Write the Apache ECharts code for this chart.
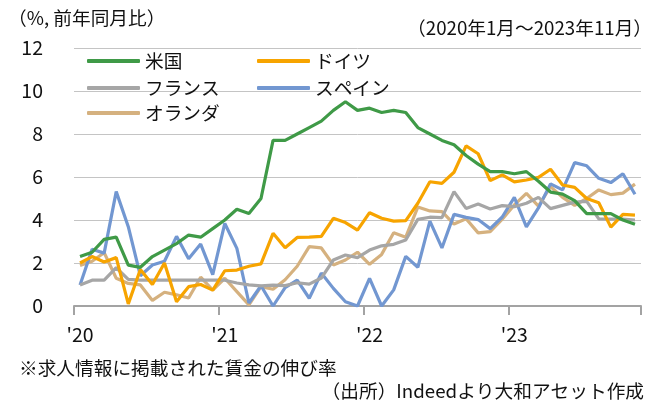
<!DOCTYPE html>
<html>
<head>
<meta charset="utf-8">
<script src="https://cdn.jsdelivr.net/npm/echarts@6/dist/echarts.min.js"></script>
<style>
html,body{margin:0;padding:0;background:#fff;}
#c{width:658px;height:405px;}
</style>
</head>
<body>
<div id="c"></div>
<script>
const yearLabels = ["'20", "'21", "'22", "'23"];
const startYear = 2020;
const monthCount = 47;
const yTicks = [0, 2, 4, 6, 8, 10, 12];

const seriesNames = ['米国', 'ドイツ', 'フランス', 'スペイン', 'オランダ'];
const us = [2.3, 2.5, 3.1, 3.2, 1.9, 1.8, 2.3, 2.6, 2.9, 3.3, 3.2, 3.6, 4.0, 4.5, 4.3, 5.0, 7.7, 7.7, 8.0, 8.3, 8.6, 9.1, 9.5, 9.1, 9.2, 9.0, 9.1, 9.0, 8.3, 8.0, 7.7, 7.5, 7.0, 6.6, 6.25, 6.25, 6.15, 6.25, 5.8, 5.3, 5.2, 4.9, 4.3, 4.3, 4.3, 4.0, 3.8];
const germany = [2.0, 2.3, 2.05, 2.25, 0.1, 1.7, 1.0, 2.0, 0.2, 0.9, 1.0, 0.74, 1.64, 1.67, 1.85, 1.96, 3.38, 2.71, 3.19, 3.2, 3.24, 4.08, 3.88, 3.53, 4.34, 4.08, 3.95, 3.97, 4.78, 5.78, 5.7, 6.22, 7.45, 7.08, 5.83, 6.1, 5.77, 5.86, 5.98, 6.36, 5.63, 5.52, 5.0, 4.8, 3.67, 4.26, 4.23];
const france = [0.98, 1.2, 1.2, 1.78, 1.24, 1.2, 1.2, 1.2, 1.2, 1.2, 1.2, 1.2, 1.2, 1.07, 0.98, 0.94, 0.97, 0.95, 1.08, 1.02, 1.3, 2.14, 2.37, 2.25, 2.6, 2.8, 2.87, 3.07, 4.03, 4.13, 4.11, 5.32, 4.54, 4.74, 4.51, 4.67, 4.62, 4.78, 5.05, 4.53, 4.68, 4.83, 4.87, 4.05, 4.04, 4.04, 4.0];
const spain = [0.98, 2.64, 2.46, 5.32, 3.69, 1.41, 1.91, 2.08, 3.24, 2.2, 2.88, 1.46, 3.84, 2.68, 0.14, 0.94, 0.0, 0.86, 1.2, 0.36, 1.53, 0.82, 0.2, 0.0, 1.29, 0.0, 0.75, 2.31, 1.8, 3.95, 2.7, 4.26, 4.12, 4.02, 3.6, 4.14, 5.05, 3.68, 4.56, 5.68, 5.4, 6.67, 6.52, 5.94, 5.74, 6.15, 5.2];
const netherlands = [1.88, 2.08, 2.48, 1.29, 1.05, 0.98, 0.26, 0.64, 0.52, 0.37, 1.34, 0.74, 1.29, 0.67, 0.05, 0.9, 0.78, 1.22, 1.85, 2.76, 2.7, 1.91, 2.14, 2.5, 1.94, 2.4, 3.41, 3.2, 4.6, 4.42, 4.39, 3.81, 4.06, 3.4, 3.46, 4.04, 4.7, 5.24, 4.65, 5.55, 5.05, 4.68, 5.0, 5.4, 5.18, 5.25, 5.67];

const seriesData = [us, germany, france, spain, netherlands];
const colors = ['#3f9a47', '#f7a400', '#a6a6a6', '#7297d1', '#d5b17f'];

const categories = [];
for (let i = 0; i < monthCount; i++) {
  const y = startYear + Math.floor(i / 12);
  const m = (i % 12) + 1;
  categories.push(y + '-' + (m < 10 ? '0' + m : m));
}

const FONT = '"Noto Sans CJK JP", "Noto Sans", sans-serif';
const FS = 18.7;
const AFS = 19.5;

const legendPos = [
  {left: 87, top: 51},
  {left: 257, top: 51},
  {left: 87, top: 78},
  {left: 257, top: 78},
  {left: 87, top: 103}
];

const chart = echarts.init(document.getElementById('c'), null, {renderer: 'canvas'});
chart.setOption({
  animation: false,
  backgroundColor: '#fff',
  color: colors,
  grid: {left: 74, right: 17, top: 48, bottom: 99, containLabel: false},
  legend: seriesNames.map((n, i) => ({
    data: [n],
    left: legendPos[i].left,
    top: legendPos[i].top,
    padding: 0,
    itemWidth: 53,
    itemHeight: 4,
    icon: 'roundRect',
    textStyle: {fontFamily: FONT, fontSize: FS, color: '#111', lineHeight: 20}
  })),
  xAxis: {
    type: 'category',
    data: categories,
    boundaryGap: true,
    axisLine: {show: true, lineStyle: {color: '#a3a3a3', width: 2}},
    axisTick: {
      show: true,
      length: 9,
      lineStyle: {color: '#a3a3a3', width: 2},
      interval: (idx) => idx % 12 === 0
    },
    axisLabel: {
      interval: (idx) => idx % 12 === 0,
      formatter: (v, idx) => yearLabels[Math.floor(idx / 12)],
      fontFamily: FONT,
      fontSize: AFS,
      color: '#111',
      margin: 19
    },
    splitLine: {show: false}
  },
  yAxis: {
    type: 'value',
    min: yTicks[0],
    max: yTicks[yTicks.length - 1],
    interval: 2,
    axisLine: {show: false},
    axisTick: {show: false},
    axisLabel: {fontFamily: FONT, fontSize: AFS, color: '#111', margin: 31},
    splitLine: {show: true, lineStyle: {color: '#c4c4c4', width: 1}}
  },
  series: seriesNames.map((n, i) => ({
    name: n,
    type: 'line',
    data: seriesData[i],
    showSymbol: false,
    symbol: 'none',
    lineStyle: {width: 3.2, color: colors[i]},
    itemStyle: {color: colors[i]},
    z: 10 - i
  })),
  graphic: [
    {type: 'text', left: 8, top: 9, style: {text: '（%, 前年同月比）', font: FS + 'px ' + FONT, fill: '#111'}},
    {type: 'text', right: 6, top: 19, style: {text: '（2020年1月～2023年11月）', font: FS + 'px ' + FONT, fill: '#111'}},
    {type: 'text', left: 19, top: 359, style: {text: '※求人情報に掲載された賃金の伸び率', font: FS + 'px ' + FONT, fill: '#111'}},
    {type: 'text', right: 14, top: 382, style: {text: '（出所）Indeedより大和アセット作成', font: FS + 'px ' + FONT, fill: '#111'}}
  ]
});
</script>
</body>
</html>
